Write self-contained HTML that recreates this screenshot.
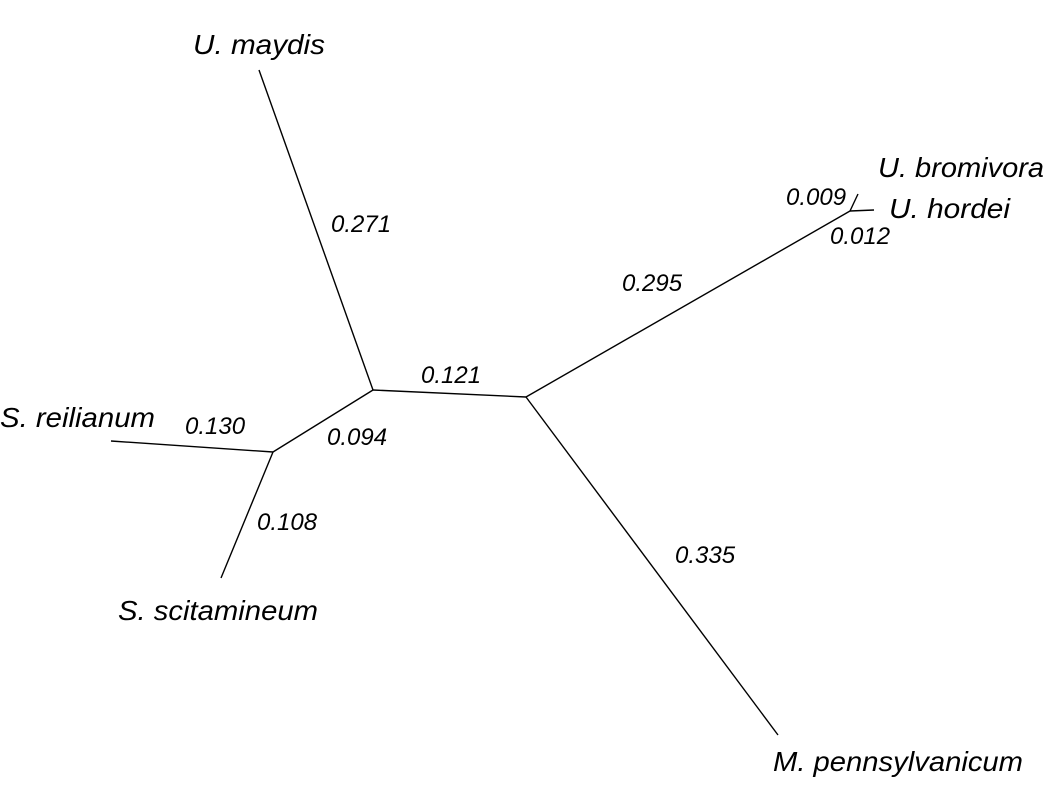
<!DOCTYPE html>
<html><head><meta charset="utf-8"><style>
html,body{margin:0;padding:0;background:#fff;}
svg{display:block;}
text{font-family:"Liberation Sans",Arial,sans-serif;font-style:italic;fill:#000;}
.l{font-size:28px;}
.n{font-size:24px;}
</style></head><body>
<svg width="1044" height="811" viewBox="0 0 1044 811" xmlns="http://www.w3.org/2000/svg">
<g stroke="#000" stroke-width="1.4" fill="none">
<line x1="259" y1="70" x2="373" y2="390"/>
<line x1="373" y1="390" x2="526" y2="397"/>
<line x1="526" y1="397" x2="850" y2="211"/>
<line x1="850" y1="211" x2="858" y2="194"/>
<line x1="850" y1="211" x2="874" y2="210"/>
<line x1="526" y1="397" x2="778" y2="735"/>
<line x1="373" y1="390" x2="273" y2="452"/>
<line x1="273" y1="452" x2="111" y2="441"/>
<line x1="273" y1="452" x2="221" y2="578"/>
</g>
<text class="l" x="193" y="54" textLength="132" lengthAdjust="spacingAndGlyphs">U. maydis</text>
<text class="l" x="878" y="177" textLength="166" lengthAdjust="spacingAndGlyphs">U. bromivora</text>
<text class="l" x="889" y="218" textLength="121" lengthAdjust="spacingAndGlyphs">U. hordei</text>
<text class="l" x="0" y="427" textLength="155" lengthAdjust="spacingAndGlyphs">S. reilianum</text>
<text class="l" x="118" y="620" textLength="200" lengthAdjust="spacingAndGlyphs">S. scitamineum</text>
<text class="l" x="773" y="771" textLength="250" lengthAdjust="spacingAndGlyphs">M. pennsylvanicum</text>
<text class="n" x="331" y="232">0.271</text>
<text class="n" x="622" y="291">0.295</text>
<text class="n" x="421" y="383">0.121</text>
<text class="n" x="185" y="434">0.130</text>
<text class="n" x="327" y="445">0.094</text>
<text class="n" x="257" y="530">0.108</text>
<text class="n" x="675" y="563">0.335</text>
<text class="n" x="786" y="205">0.009</text>
<text class="n" x="830" y="244">0.012</text>
</svg>
</body></html>
